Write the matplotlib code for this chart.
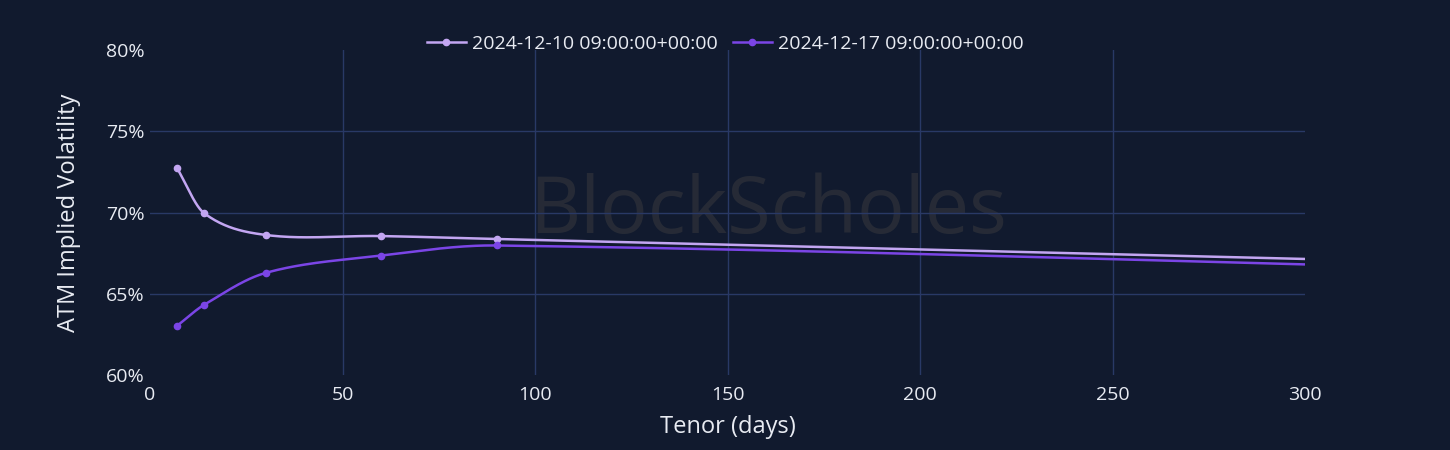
import numpy as np
import matplotlib
matplotlib.use("Agg")
from matplotlib import pyplot as plt
from matplotlib.ticker import FuncFormatter

plt.rcParams['font.family'] = ['Open Sans', 'DejaVu Sans']

tenor = [7, 14, 30, 60, 90, 365]
iv_1210 = [72.74, 69.97, 68.62, 68.55, 68.37, 66.76]
iv_1217 = [63.02, 64.31, 66.28, 67.35, 67.97, 66.40]
labels = ["2024-12-10 09:00:00+00:00", "2024-12-17 09:00:00+00:00"]
colors = ["#c3a6f2", "#7b45e6"]

bg = "#111a2e"
grid = "#293966"
txt = "#e8ebf2"


def cardinal(x, y, n=40, t=0.5):
    # plotly-like smooth spline through the points
    x = np.asarray(x, float)
    y = np.asarray(y, float)
    px = np.concatenate([[2 * x[0] - x[1]], x, [2 * x[-1] - x[-2]]])
    py = np.concatenate([[2 * y[0] - y[1]], y, [2 * y[-1] - y[-2]]])
    xs, ys = [], []
    for i in range(1, len(px) - 2):
        s = np.linspace(0, 1, n)
        h1 = 2 * s**3 - 3 * s**2 + 1
        h2 = -2 * s**3 + 3 * s**2
        h3 = s**3 - 2 * s**2 + s
        h4 = s**3 - s**2
        my1 = t * (py[i + 1] - py[i - 1]) * (px[i + 1] - px[i]) / (px[i + 1] - px[i - 1]) * 2
        my2 = t * (py[i + 2] - py[i]) * (px[i + 1] - px[i]) / (px[i + 2] - px[i]) * 2
        dx = px[i + 1] - px[i]
        xs.append(px[i] + dx * s)
        ys.append(h1 * py[i] + h2 * py[i + 1] + h3 * my1 + h4 * my2)
    return np.concatenate(xs), np.concatenate(ys)


fig = plt.figure(figsize=(14.5, 4.5), dpi=100, facecolor=bg)
ax = fig.add_axes([150 / 1450, 75 / 450, 1155 / 1450, 325 / 450])
ax.set_facecolor(bg)

ax.text(0.535, 0.5, "BlockScholes", transform=ax.transAxes, ha="center", va="center",
        fontsize=57, color="#2a2e38", alpha=0.85, zorder=0)

for y, lab, c in zip([iv_1210, iv_1217], labels, colors):
    sx, sy = cardinal(tenor, y)
    ax.plot(sx, sy, color=c, lw=1.8, zorder=3)
    ax.plot(tenor, y, 'o', color=c, ms=4.5, zorder=4)
    ax.plot([], [], '-o', color=c, lw=1.8, ms=4.5, label=lab)

ax.set_xlim(0, 300)
ax.set_ylim(60, 80)
ax.set_xticks(range(0, 301, 50))
ax.set_yticks(range(60, 81, 5))
ax.yaxis.set_major_formatter(FuncFormatter(lambda v, p: f"{v:.0f}%"))

for v in range(50, 300, 50):
    ax.axvline(v, color=grid, lw=1, zorder=1)
for v in [65, 70, 75]:
    ax.axhline(v, color=grid, lw=1, zorder=1)

for s in ax.spines.values():
    s.set_visible(False)
ax.tick_params(length=0, colors=txt, labelsize=14)
ax.tick_params(axis='y', pad=4)
ax.tick_params(axis='x', pad=8)

ax.set_xlabel("Tenor (days)", color=txt, fontsize=17, labelpad=8)
ax.set_ylabel("ATM Implied Volatility", color=txt, fontsize=17, labelpad=18)

leg = fig.legend(loc="center", bbox_to_anchor=(0.5, 1 - 44 / 450), ncol=2, frameon=False,
                 fontsize=14, labelcolor=txt, handlelength=2.0, columnspacing=0.8,
                 handletextpad=0.3)

fig.savefig("out.png", dpi=100, facecolor=bg)
